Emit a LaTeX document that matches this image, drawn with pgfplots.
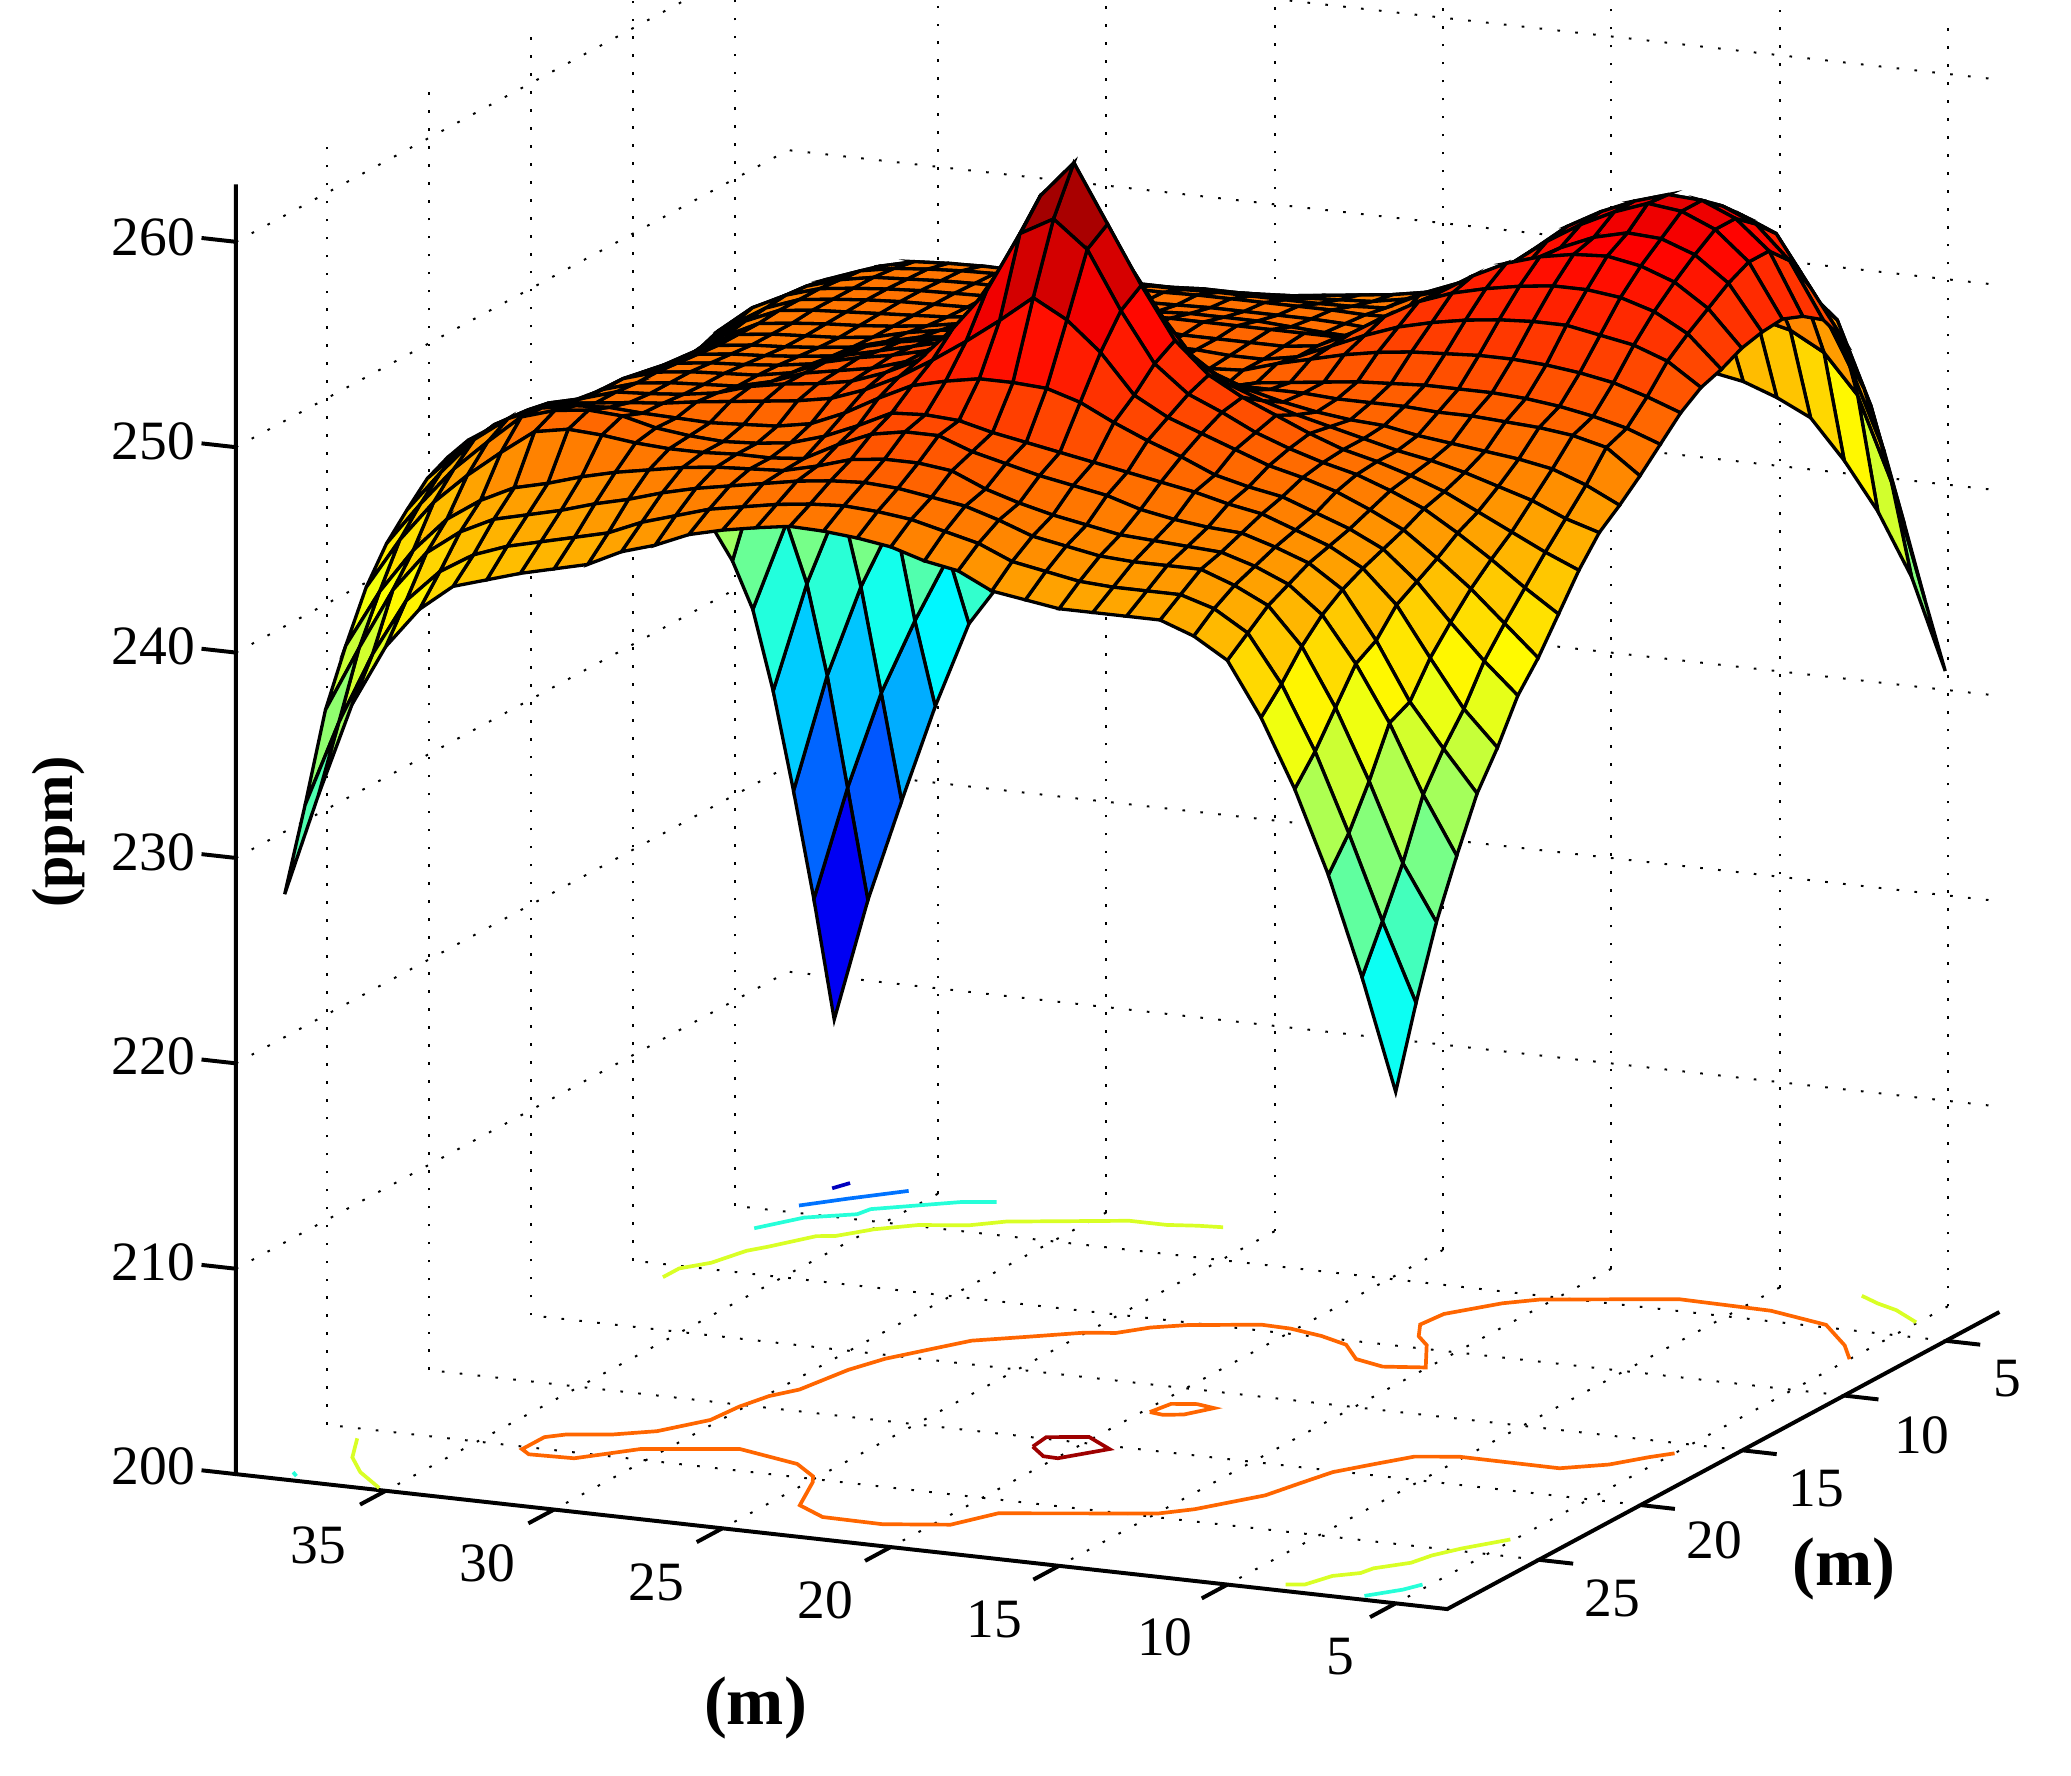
\documentclass[border=0pt]{standalone}
\usepackage{fontspec}
\setmainfont{Liberation Serif}
\usepackage{pgfplots}
\pgfplotsset{compat=1.18}
\definecolor{cA}{rgb}{1,.4,0}
\definecolor{cY}{rgb}{.85,1,.15}
\definecolor{cC}{rgb}{.15,1,.85}
\definecolor{cB}{rgb}{0,.45,1}
\definecolor{cD}{rgb}{0,0,.75}
\definecolor{cR}{rgb}{.62,0,0}
\begin{document}
\begin{tikzpicture}
\useasboundingbox (0,0) rectangle (784pt,672pt);
\clip (0,0) rectangle (784pt,672pt);
\begin{axis}[hide axis, disabledatascaling, clip=false,
  x={(-12.745pt,1.42pt)}, y={(-7.705pt,-4.145pt)}, z={(0pt,7.775pt)},
  anchor=origin, at={(756.9pt,175.3pt)},
  xmin=3.47,xmax=39.45,ymin=2.37,ymax=29.5,zmin=200,zmax=262.8,
  colormap/jet, point meta min=207.9, point meta max=262.7]
% grid
\pgfplotsset{gl/.style={black,line width=.75pt,dash pattern=on 1pt off 5.8pt,forget plot}}
\foreach \v in {5,10,...,35}{
 \edef\tmp{\noexpand\addplot3[gl] coordinates {(\v,2.37,200)(\v,29.5,200)};
  \noexpand\addplot3[gl] coordinates {(\v,2.37,200)(\v,2.37,262.8)};}\tmp}
\foreach \v in {5,10,...,25}{
 \edef\tmp{\noexpand\addplot3[gl] coordinates {(3.47,\v,200)(39.45,\v,200)};
  \noexpand\addplot3[gl] coordinates {(39.45,\v,200)(39.45,\v,262.8)};}\tmp}
\foreach \v in {210,220,...,260}{
 \edef\tmp{\noexpand\addplot3[gl] coordinates {(39.45,29.5,\v)(39.45,2.37,\v)(3.47,2.37,\v)};}\tmp}
% axes
\addplot3[black,line width=1.5pt,forget plot] coordinates {(39.45,29.5,262.8)(39.45,29.5,200)(3.47,29.5,200)(3.47,2.37,200)};
\foreach \v in {5,10,...,35}{
 \edef\tmp{\noexpand\addplot3[black,line width=1.5pt,forget plot] coordinates {(\v,29.5,200)(\v,30.76,200)};}\tmp}
\foreach \v in {5,10,...,25}{
 \edef\tmp{\noexpand\addplot3[black,line width=1.5pt,forget plot] coordinates {(3.47,\v,200)(2.45,\v,200)};}\tmp}
\foreach \v in {200,210,...,260}{
 \edef\tmp{\noexpand\addplot3[black,line width=1.5pt,forget plot] coordinates {(39.45,29.5,\v)(40.47,29.5,\v)};}\tmp}
% contours
\addplot3[cA,line width=1.4pt] coordinates {(5,15.8,200)(5.45,16.3,200)(6.1,17.2,200)(7.15,17.9,200)(10.15,17.87,200)(11.25,18.24,200)(11.9,19.15,200)(12.55,20.1,200)(12.85,21.23,200)(13.15,22.43,200)(14.25,24.07,200)(14.95,24.7,200)(18.9,26.04,200)(19.55,27.3,200)(21.25,27.84,200)(23.05,27.8,200)(24.15,27.1,200)(24.89,25.24,200)(25.15,24.8,200)(26.1,24,200)(28.2,23.35,200)(29.05,23.65,200)(30.65,24.2,200)(31.85,25.45,200)(33.15,25.53,200)(33.55,25.2,200)(33.55,24.1,200)(33.15,23.73,200)(32,23.33,200)(31.05,22.7,200)(30.25,21.4,200)(30.15,20.15,200)(29.9,19.1,200)(29.45,18.35,200)(29.15,16.45,200)(28.75,15.3,200)(27.95,14,200)(27.45,13.2,200)(26.35,12.5,200)(25.05,11.65,200)(24.25,11.4,200)(23.65,10.7,200)(22.85,10.2,200)(21.05,9.55,200)(20.15,9.6,200)(19.05,9.9,200)(18.05,10.35,200)(17.15,11.35,200)(16.15,11.7,200)(15.05,11.4,200)(16.05,9.7,200)(16.65,9.1,200)(17.15,8.2,200)(17.05,7.2,200)(16.1,5.9,200)(15.35,5.3,200)(11.95,4.1,200)(9.15,4.2,200)(7.15,4.8,200)(5.75,6.2,200)(5,7.2,200)};
\addplot3[cA,line width=1.4pt] coordinates {(19.8,17.1,200)(19.65,16.3,200)(19,16.1,200)(18.4,16.26,200)(18.85,17,200)(19.35,17.2,200)(19.8,17.1,200)};
\addplot3[cR,line width=1.4pt] coordinates {(21.1,20.7,200)(21.2,19.87,200)(20.15,19.5,200)(19.1,20.24,200)(19.95,21.37,200)(20.4,21.34,200)(21.1,20.7,200)};
\addplot3[cY,line width=1.4pt] coordinates {(38.1,25.77,200)(37.35,27.25,200)(36.48,28.3,200)(35.29,29.34,200)};
\addplot3[cC,line width=1.4pt] coordinates {(38.13,28.87,200)(37.87,29.14,200)};
\addplot3[cY,line width=1.4pt] coordinates {(37.95,11,200)(37.95,10.2,200)(37.42,9.5,200)(37.1,8.3,200)(36.75,7.8,200)(36.05,6.6,200)(35.59,6.43,200)(34.95,5.6,200)(34.05,4.9,200)(32.8,4.5,200)(32.05,3.9,200)(29.05,2.8,200)(27.95,2.8,200)(27.15,2.6,200)(26.45,2.5,200)};
\addplot3[cC,line width=1.4pt] coordinates {(37.94,6.53,200)(37.2,5.3,200)(36.05,4.6,200)(35.95,4.1,200)(34.05,2.8,200)(33.18,2.5,200)};
\addplot3[cB,line width=1.4pt] coordinates {(37.88,4.43,200)(36.99,3.5,200)(35.85,2.4,200)};
\addplot3[cD,line width=1.4pt] coordinates {(37.85,2.85,200)(37.65,2.3,200)};
\addplot3[cY,line width=1.4pt] coordinates {(8.57,29,200)(8.1,28.85,200)(7.81,27.96,200)(7.25,27.5,200)(7.15,27.04,200)(6.48,26.3,200)(6.3,25.57,200)(5.89,24.8,200)(5.1,23.7,200)};
\addplot3[cC,line width=1.4pt] coordinates {(6.11,29.2,200)(5.45,28.4,200)(5.2,27.85,200)};
\addplot3[cY,line width=1.4pt] coordinates {(7.6,2.3,200)(6.85,2.75,200)(6.09,3.1,200)(5.05,3.85,200)};
% surface: 1 m grid; rows from the far edge y=2.5 to the near edge y=29.5, x from 38 to 5
\addplot3[surf, shader=faceted, faceted color=black, line width=1.25pt, z buffer=default,
  mesh/rows=28, mesh/cols=34]
 table[header=false,row sep=crcr,z index=0,
  x expr={38-floor(mod(\coordindex+0.5,34))},
  y expr={2.5+floor((\coordindex+0.5)/34)}] {
208\\214\\219\\223.8\\228\\230.3\\232.3\\234\\235.4\\236.8\\238.2\\239.4\\240.4\\241\\241.6\\242.1\\242.5\\242.9\\243.2\\243.5\\243.7\\243.9\\244\\244.1\\244.2\\244.3\\244.3\\244\\243.4\\242.6\\240.7\\238.4\\235.4\\231\\
214.4\\220\\224.8\\228.5\\231.8\\234.5\\236.8\\239\\240.5\\241\\241.6\\242.2\\242.6\\243\\243.3\\243.6\\243.9\\244.2\\244.5\\244.8\\245.2\\245.6\\246\\246.5\\247\\247.5\\247.8\\247.9\\247.8\\247.4\\246.5\\244.6\\240.6\\235\\
220.2\\226\\230.5\\234\\237\\239.4\\240.2\\241.2\\242\\242.7\\243.3\\243.8\\244.2\\244.6\\245\\245.4\\245.8\\246.1\\246.4\\246.8\\247.2\\247.7\\248.2\\248.9\\249.4\\250\\250.3\\250.4\\250.4\\250.3\\249.9\\248.8\\244.8\\239.2\\
225.6\\231\\235.2\\239.8\\241.5\\242.6\\243.6\\244.2\\245\\245.6\\246.1\\246.5\\246.7\\246.9\\247.1\\247.3\\247.5\\247.7\\248\\248.3\\248.6\\249.3\\249.7\\250.2\\250.6\\251\\251.4\\251.8\\252\\251.9\\251.5\\250.3\\247.2\\243.3\\
230.1\\234.5\\238.5\\241.5\\243.6\\245\\245.8\\246.6\\247\\247.4\\247.6\\247.8\\247.9\\247.9\\248\\248.2\\248.3\\248.5\\248.7\\248.9\\249.2\\249.85\\250.3\\250.7\\251.1\\251.7\\252.5\\253.3\\253.8\\253.9\\253.5\\252.5\\250\\246.9\\
233\\238.7\\243\\245.5\\247\\247.9\\248.4\\248.5\\248.55\\248.6\\248.65\\248.7\\248.7\\248.7\\248.8\\248.8\\248.85\\248.9\\249\\249.1\\249.4\\250\\250.6\\251\\251.7\\252.7\\253.7\\254.6\\255.2\\255.5\\255.3\\254.6\\252.2\\249.8\\
235.2\\240.9\\244.5\\246.8\\248\\248.8\\249.2\\249.3\\249.35\\249.35\\249.35\\249.3\\249.3\\249.3\\249.3\\249.35\\249.35\\249.35\\249.35\\249.4\\249.5\\250.3\\250.8\\251.2\\252.2\\253.5\\254.6\\255.6\\256.1\\256.4\\256.3\\255.6\\254\\251.3\\
237.4\\242.5\\245.6\\247.5\\248.5\\249.1\\249.4\\249.55\\249.65\\249.7\\249.7\\249.7\\249.7\\249.7\\249.7\\249.75\\249.75\\249.75\\249.75\\249.75\\249.7\\249.75\\250.3\\250.9\\252.3\\253.8\\255.1\\256\\256.7\\257.2\\257.1\\256.4\\255\\252\\
239\\243.5\\246.2\\247.8\\248.7\\249.2\\249.5\\249.6\\249.7\\249.75\\249.75\\249.75\\249.7\\249.7\\249.75\\249.8\\249.85\\249.85\\249.85\\249.85\\249.8\\249.7\\249.75\\250.4\\252\\253.7\\254.9\\255.9\\256.7\\257.3\\257.1\\256.4\\255\\252.4\\
240.8\\244.4\\246.7\\248\\248.8\\249.3\\249.5\\249.65\\249.75\\249.8\\249.85\\249.9\\249.95\\249.95\\249.95\\250\\250.1\\250.1\\250.1\\250\\249.9\\249.85\\249.8\\249.9\\251.2\\253\\254.3\\255.3\\256\\256.4\\256.3\\255.7\\254.5\\252.3\\
242.3\\244.7\\246.3\\247.7\\248.7\\249.3\\249.5\\249.65\\249.75\\249.8\\249.85\\249.9\\250.1\\250.3\\250.4\\250.4\\250.4\\250.4\\250.4\\250.4\\250.4\\250.4\\250.6\\251.8\\253.1\\254.1\\254.9\\255.4\\255.7\\255.8\\255.5\\254.9\\253.8\\252.05\\
243.4\\245\\246.2\\247.5\\248.6\\249.3\\249.5\\249.6\\249.7\\249.8\\249.9\\250.1\\250.3\\250.4\\250.4\\250.4\\250.4\\250.3\\250.3\\250.3\\250.3\\250.5\\251.3\\252.3\\253.2\\253.8\\254.2\\254.5\\254.7\\254.7\\254.5\\254\\253.1\\251.55\\
244.3\\245.4\\245.9\\247.2\\248.4\\249.2\\249.4\\249.55\\249.65\\249.8\\250\\250.3\\250.5\\250.5\\250.5\\250.4\\250.4\\250.3\\250.3\\250.2\\250.2\\250.5\\251.2\\251.9\\252.5\\252.9\\253.2\\253.4\\253.5\\253.5\\253.2\\252.9\\252.3\\251.2\\
244.8\\245.6\\246\\247.2\\248.4\\249.2\\249.4\\249.5\\249.6\\249.8\\250.2\\250.5\\250.7\\250.7\\250.7\\250.6\\250.5\\250.4\\250.2\\250.1\\250.2\\250.7\\251.1\\251.5\\251.8\\252\\252.1\\252.2\\252.2\\252.1\\251.9\\251.6\\251.1\\250.5\\
245.1\\245.9\\246.2\\247.4\\248.5\\249.2\\249.4\\249.5\\249.65\\249.85\\250.3\\250.7\\250.9\\251\\251\\250.9\\250.6\\250.2\\249.75\\249.7\\249.9\\250.3\\250.5\\250.7\\250.9\\251\\251.1\\251.1\\251.1\\251\\250.8\\250.5\\250.1\\249.5\\
245.5\\246.2\\246.5\\247.6\\248.6\\249.3\\249.5\\249.6\\249.75\\249.95\\250.6\\251\\251.3\\251.6\\251.8\\251.8\\251.6\\251.4\\251\\250.6\\250.6\\250.7\\250.7\\250.7\\250.6\\250.6\\250.6\\250.5\\250.5\\250.4\\250.3\\250.1\\249.7\\248.5\\
245.7\\246.4\\246.8\\247.8\\248.8\\249.4\\249.6\\249.7\\249.85\\250.1\\250.7\\251.1\\251.5\\251.9\\252.5\\253\\253.8\\255.5\\256.5\\255\\252.9\\251.8\\251.2\\250.8\\250.5\\250.3\\250.2\\249.9\\249.7\\249.5\\249.3\\249\\248.4\\247.6\\
245.8\\246.5\\247\\248\\249\\249.5\\249.7\\249.8\\249.9\\250.2\\250.9\\251.3\\251.6\\252\\252.9\\253.8\\255.6\\258.5\\260\\257.4\\255\\253\\252\\251.4\\250.9\\250.5\\250.1\\249.7\\249.4\\249\\248.5\\248\\247.3\\246.8\\
245.8\\246.6\\247.2\\248.2\\249\\249.5\\249.7\\249.8\\249.9\\250.3\\250.9\\251.2\\251.5\\252\\253\\255\\257.5\\260.8\\262.6\\259.8\\257\\254.5\\253\\252.1\\251.4\\250.7\\250.1\\249.7\\249.2\\248.6\\247.8\\247\\246.2\\245.5\\
245.5\\246.7\\247.8\\248.7\\249.1\\249.6\\249.7\\249.85\\250.1\\250.6\\250.9\\251.1\\251.4\\252\\252.8\\254.5\\256.5\\259.5\\260.4\\259.1\\256.3\\253.9\\252.6\\251.9\\251.1\\250.5\\250\\249.6\\249\\248.3\\247.3\\246.2\\245\\243.9\\
245\\246.6\\248\\248.9\\249.4\\249.6\\249.8\\249.95\\250.2\\250.4\\250.6\\250.8\\251.1\\251.7\\252.5\\253.5\\254.6\\255.8\\257.1\\256.2\\254.8\\252.9\\252\\251.4\\250.8\\250.2\\249.8\\249.3\\248.6\\247.8\\246.6\\245.3\\243.8\\242.3\\
244\\246\\247.8\\249\\249.7\\250\\250.1\\250\\249.95\\249.9\\250\\250.1\\250.4\\251.1\\252\\252.8\\253.2\\253.5\\253.5\\253.4\\252.9\\252.1\\251.4\\250.8\\250.1\\249.7\\249.4\\248.8\\248.2\\247.4\\246\\244.2\\242.5\\241\\
242.9\\245\\246.9\\248.4\\249.8\\250.3\\250.5\\250.4\\250\\249.8\\249.7\\249.8\\250\\250.5\\251.2\\252\\252.1\\252\\251.6\\251.3\\251\\250.7\\250.4\\250.1\\249.8\\249.4\\249.1\\248.5\\247.9\\247\\245.4\\243\\240.7\\239\\
241.3\\243.8\\245.8\\247.3\\248.6\\249.8\\250.1\\250\\249.8\\249.7\\249.7\\249.8\\249.8\\249.95\\250.8\\251.5\\251.8\\251.8\\251.2\\250.8\\250.4\\250.1\\249.8\\249.3\\249\\248.8\\248.7\\248.2\\247.6\\246.5\\244.2\\241.4\\239.3\\237.3\\
239\\241.8\\244\\245.7\\246.8\\247.6\\248\\248.5\\248.9\\249.2\\249.5\\249.7\\249.8\\249.9\\250.3\\250.8\\251\\251\\250.8\\250.1\\249.6\\249.2\\248.9\\248.6\\248.5\\248.4\\248.3\\247.8\\247.1\\245.8\\243.6\\240.9\\237.6\\234.8\\
236.4\\239.6\\242.6\\244.6\\245.8\\246.6\\247\\247.4\\247.9\\248.3\\248.8\\249.2\\249.5\\249.8\\250.1\\250.3\\250.4\\250.3\\250.05\\249.8\\249.3\\248.7\\248.4\\248.1\\248\\248\\248\\247.4\\246.6\\244.8\\242\\238.6\\234.8\\232.1\\
232.3\\236.5\\240\\242.8\\244.4\\245.4\\246\\246.4\\246.8\\247.2\\247.9\\248.4\\248.9\\249.2\\249.5\\249.7\\249.8\\249.7\\249.5\\249.1\\248.7\\248\\247.7\\247.4\\247.3\\247.3\\247.3\\246.8\\245.8\\243.5\\240.4\\236.6\\232.5\\228.7\\
228.5\\233.5\\238.1\\241.1\\243.1\\244.4\\244.9\\245.4\\245.8\\246.2\\247\\247.5\\248.2\\248.6\\248.9\\249.15\\249.1\\248.95\\248.7\\248.2\\247.9\\247.1\\246.85\\246.6\\246.6\\246.6\\246.6\\246\\245\\242.4\\239.1\\235.1\\230.3\\224.9\\
};
\end{axis}
\tikzset{tl/.style={font=\fontsize{21}{25}\selectfont,inner sep=0pt}}
\node[tl,anchor=east] at (74pt,582pt) {260};
\node[tl,anchor=east] at (74pt,505pt) {250};
\node[tl,anchor=east] at (74pt,427.5pt) {240};
\node[tl,anchor=east] at (74pt,349.5pt) {230};
\node[tl,anchor=east] at (74pt,272pt) {220};
\node[tl,anchor=east] at (74pt,194pt) {210};
\node[tl,anchor=east] at (74pt,117pt) {200};
\node[tl] at (120.5pt,87pt) {35};
\node[tl] at (184.5pt,80pt) {30};
\node[tl] at (248.5pt,73pt) {25};
\node[tl] at (312.5pt,66pt) {20};
\node[tl] at (376.5pt,59pt) {15};
\node[tl] at (441pt,52pt) {10};
\node[tl] at (507.5pt,45pt) {5};
\node[tl] at (610.5pt,67pt) {25};
\node[tl] at (649pt,89pt) {20};
\node[tl] at (687.5pt,108.5pt) {15};
\node[tl] at (727.5pt,128.5pt) {10};
\node[tl] at (760pt,150pt) {5};
\node[font=\fontsize{26}{30}\selectfont\bfseries] at (286pt,25.5pt) {(m)};
\node[font=\fontsize{26}{30}\selectfont\bfseries] at (698pt,78pt) {(m)};
\node[font=\fontsize{22}{26}\selectfont\bfseries,rotate=90] at (22pt,357pt) {(ppm)};
\end{tikzpicture}
\end{document}
